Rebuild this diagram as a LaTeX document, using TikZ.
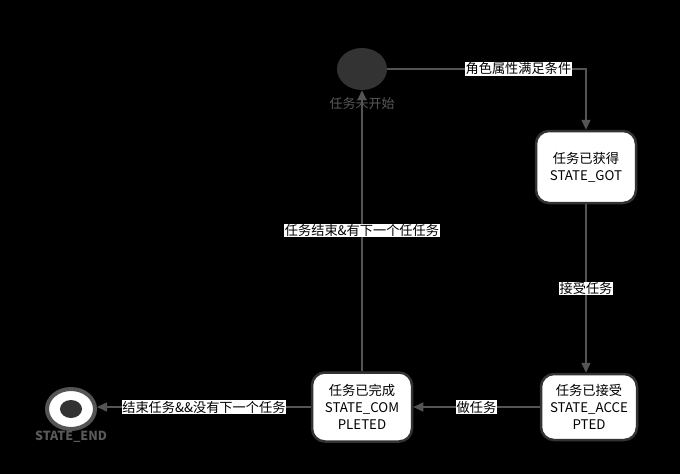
\documentclass[tikz,border=0pt]{standalone}
\usepackage{fontspec}
\setmainfont{Noto Sans CJK SC}
\usetikzlibrary{arrows.meta}
\usetikzlibrary{positioning}
\usetikzlibrary{shapes.geometric}
\definecolor{mdark}{rgb}{0.2, 0.2, 0.2}
\definecolor{mline}{rgb}{0.33, 0.33, 0.33}
\definecolor{mtext}{rgb}{0.35, 0.35, 0.35}
\tikzset{state/.style = {draw=mdark, line width=2.5, fill=white, rounded corners=13,
                         align=center, text=black, inner sep=2,
                         font=\fontsize{13.3}{17}\selectfont}}
\tikzset{edge/.style = {draw=mline, line width=1.5, -{Triangle[length=10, width=9]}}}
\tikzset{lbl/.style = {fill=white, text=black, inner sep=0.5,
                       font=\fontsize{13.2}{15}\selectfont}}

\begin{document}
\begin{tikzpicture}[x=1pt, y=-1pt]
      \fill [black] (0, 0) rectangle (680, 474);

      \node [ellipse, fill=mdark, minimum width=50, minimum height=42] (start) at (362, 69) {};
      \node [text=mtext, font=\fontsize{13}{15}\selectfont] (startlbl) at (362, 104) {任务未开始};

      \node [state, minimum width=100, minimum height=72] (got) at (586, 167) {任务已获得\\STATE\_GOT};
      \node [state, minimum width=96, minimum height=66] (accepted) at (589, 407) {任务已接受\\STATE\_ACCE\\PTED};
      \node [state, minimum width=100, minimum height=69] (completed) at (362, 407) {任务已完成\\STATE\_COM\\PLETED};

      \node [ellipse, draw=mline, line width=4, fill=white, minimum width=48, minimum height=40] (end) at (71, 409) {};
      \node [ellipse, fill=mdark, minimum width=22, minimum height=18] (endin) at (end) {};
      \node [text=mtext, font=\bfseries\fontsize{12.5}{14}\selectfont] (endlbl) at (71, 437) {STATE\_END};

      \draw [edge] (start.east) -| (got.north) node [lbl, pos=0.33] {角色属性满足条件};
      \draw [edge] (got.south) -- (got.south |- accepted.north) node [lbl, midway] {接受任务};
      \draw [edge] (accepted.west) -- (accepted.west -| completed.east) node [lbl, midway] {做任务};
      \draw [edge] (completed.north) -- (start.south) node [lbl, midway] {任务结束\&有下一个任任务};
      \draw [edge] (completed.west) -- (completed.west -| end.east) node [lbl, midway] {结束任务\&\&没有下一个任务};
\end{tikzpicture}
\end{document}
